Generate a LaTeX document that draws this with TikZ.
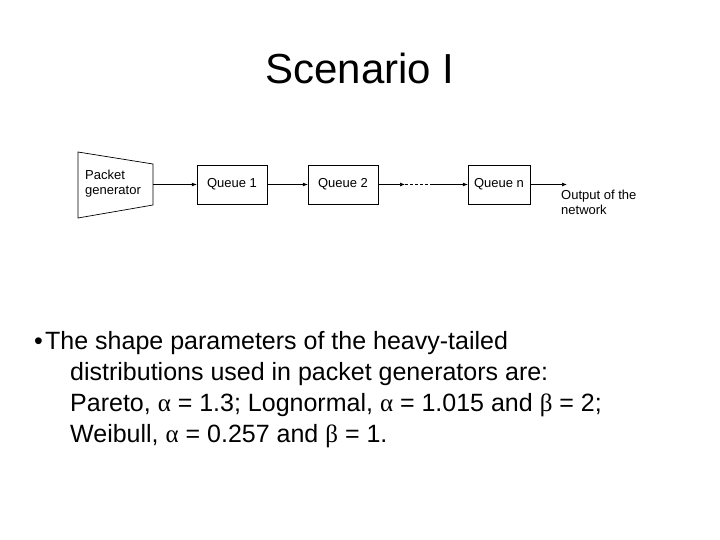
\documentclass[tikz,border=0pt]{standalone}
\usepackage{fontspec}
\setmainfont{Liberation Sans}
\newfontfamily\grk{Liberation Serif}
\usetikzlibrary{arrows.meta}
\begin{document}
\begin{tikzpicture}[x=1pt,y=-1pt,
  qbox/.style={draw,minimum width=70pt,minimum height=39pt,inner sep=0pt,font=\fontsize{13}{15}\selectfont},
  arr/.style={-{Latex[length=5pt,width=4pt]},line width=0.7pt},
  body/.style={anchor=base west,inner sep=0pt,font=\fontsize{25}{30}\selectfont}]
\useasboundingbox (0,0) rectangle (720,540);
\node[font=\fontsize{42}{48}\selectfont] (title) at (360,68) {Scenario I};
\draw[line width=0.7pt] (78,152) -- (153,164) -- (153,205) -- (78,218) -- cycle;
\node[align=left,anchor=west,inner sep=0pt,font=\fontsize{13}{15}\selectfont] (gen) at (85,184) {Packet\\generator};
\coordinate (genr) at (153,184.5);
\node[qbox] (q1) at (232,184.5) {Queue 1};
\node[qbox] (q2) at (343,184.5) {Queue 2};
\node[qbox,minimum width=62pt] (qn) at (499,184.5) {Queue n};
\coordinate (d1) at (405,184.5);
\coordinate (d2) at (432,184.5);
\coordinate (out) at (567,184.5);
\draw[arr] (genr) -- (q1.west);
\draw[arr] (q1.east) -- (q2.west);
\draw[arr] (q2.east) -- (d1);
\draw[line width=0.7pt,dash pattern=on 3pt off 2pt] (d1) -- (d2);
\draw[arr] (d2) -- (qn.west);
\draw[arr] (qn.east) -- (out);
\node[align=left,anchor=north west,inner sep=0pt,font=\fontsize{13}{15}\selectfont] (outl) at (561,190) {Output of the\\network};
\node[body] (bul) at (34,349) {•};
\node[body] (l1) at (45,349) {The shape parameters of the heavy-tailed};
\node[body] (l2) at (70,380) {distributions used in packet generators are:};
\node[body] (l3) at (70,411) {Pareto, {\grk α} = 1.3; Lognormal, {\grk α} = 1.015 and {\grk β} = 2;};
\node[body] (l4) at (70,442) {Weibull, {\grk α} = 0.257 and {\grk β} = 1.};
\end{tikzpicture}
\end{document}
